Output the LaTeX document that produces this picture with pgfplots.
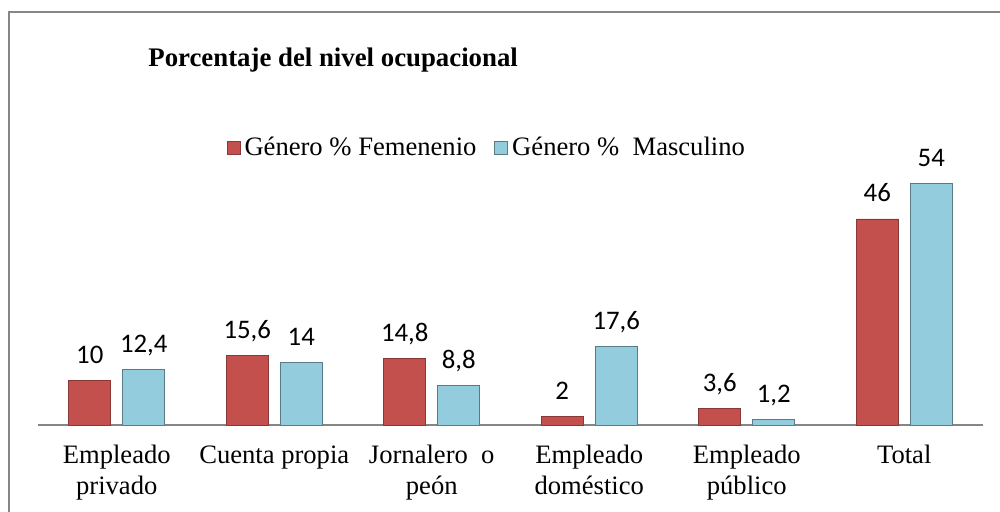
\documentclass[border=0pt]{standalone}
\usepackage{fontspec}
\setmainfont{Liberation Serif}
\newfontfamily\labelfont{Carlito}
\usepackage{pgfplots}
\pgfplotsset{compat=1.18}
\definecolor{barred}{RGB}{196,80,77}
\definecolor{barblue}{RGB}{147,205,221}
\definecolor{framegray}{RGB}{134,134,134}
\begin{document}
\begin{tikzpicture}[x=1pt,y=1pt]
\useasboundingbox (0,0) rectangle (500,256);
\draw[framegray, line width=1.2pt] (4.5,-2) -- (4.5,250) -- (502,250);
\node[anchor=west, font=\fontsize{13.4}{16}\selectfont\bfseries, inner sep=0pt] at (74,226) {Porcentaje del nivel ocupacional};
\begin{axis}[
  at={(19pt,43.5pt)}, anchor=south west,
  width=472.5pt, height=134.4pt, scale only axis,
  ymin=0, ymax=60, xmin=-0.5, xmax=5.5,
  axis x line*=bottom, axis y line=none,
  x axis line style={framegray, line width=1pt, -},
  ytick=\empty,
  xtick={0,1,2,3,4,5},
  xticklabels={Empleado\\privado, Cuenta propia, Jornalero~ o\\peón, Empleado\\doméstico, Empleado\\público, Total},
  major tick length=0pt,
  xticklabel style={align=center, anchor=north, inner sep=0pt, yshift=-10pt, font=\fontsize{13.3}{15.5}\selectfont},
  clip=false,
  ybar=6pt, bar width=21pt,
  nodes near coords,
  every node near coord/.append style={font=\labelfont\fontsize{13.4}{15}\selectfont, anchor=base, yshift=8.5pt, inner sep=0pt, text=black},
  /pgf/number format/use comma,
  /pgf/number format/assume math mode=true,
  legend style={at={(axis description cs:0.476,1.03)}, anchor=center, draw=none, fill=none, inner sep=0pt,
    legend columns=2, font=\fontsize{13.3}{15.5}\selectfont,
    /tikz/every even column/.append style={column sep=7pt},
    legend cell align=left},
  legend image code/.code={\draw[#1, line width=0.4pt] (0pt,-2.9pt) rectangle (6.5pt,3.6pt);},
]
\addplot[fill=barred, draw=barred!70!black, line width=0.4pt] coordinates {(0,10) (1,15.6) (2,14.8) (3,2) (4,3.6) (5,46)};
\addplot[fill=barblue, draw=barblue!60!black, line width=0.4pt] coordinates {(0,12.4) (1,14) (2,8.8) (3,17.6) (4,1.2) (5,54)};
\legend{Género \% Femenenio, Género \%~ Masculino}
\end{axis}
\end{tikzpicture}
\end{document}
